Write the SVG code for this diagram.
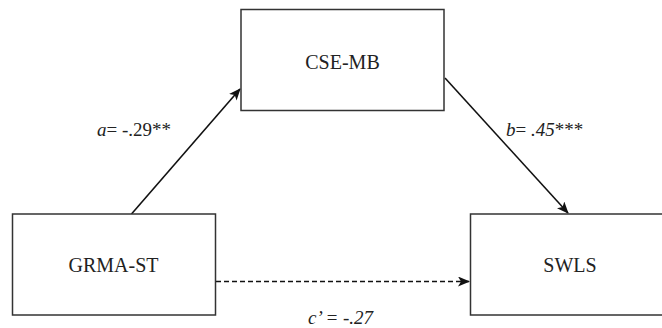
<svg xmlns="http://www.w3.org/2000/svg" width="662" height="328" viewBox="0 0 662 328">
<defs>
<style>
.box{fill:#fff;stroke:#333;stroke-width:1.5}
.lbl{font-family:"Liberation Serif","Times New Roman",serif;font-size:20px;fill:#222;text-anchor:middle}
.coef{font-family:"Liberation Serif","Times New Roman",serif;font-size:19px;font-style:italic;fill:#222}
.edge{stroke:#111;stroke-width:1.6;fill:none}
</style>
<marker id="ah" viewBox="0 0 12 10" refX="11" refY="5" markerWidth="12" markerHeight="10" markerUnits="userSpaceOnUse" orient="auto">
<path d="M0,0 L12,5 L0,10 L3,5 z" fill="#111"/>
</marker>
</defs>
<rect width="662" height="328" fill="#fff"/>
<g id="connectors">
<line class="edge" x1="131.5" y1="214" x2="240" y2="89" marker-end="url(#ah)"/>
<line class="edge" x1="445" y1="78" x2="568" y2="213" marker-end="url(#ah)"/>
<line class="edge" x1="216" y1="281.5" x2="469" y2="281.5" stroke-dasharray="5 3" marker-end="url(#ah)"/>
<text class="coef" x="97" y="136">a<tspan font-style="normal">= -.29**</tspan></text>
<text class="coef" x="506" y="136">b<tspan font-style="normal">= </tspan>.45<tspan font-style="normal">***</tspan></text>
<text class="coef" x="308" y="324">c’ = -.27</text>
</g>
<g id="cse-mb">
<rect class="box" x="241" y="9.5" width="203" height="101"/>
<text class="lbl" x="342.5" y="69">CSE-MB</text>
</g>
<g id="grma-st">
<rect class="box" x="12.5" y="214" width="203" height="101"/>
<text class="lbl" x="113.5" y="272">GRMA-ST</text>
</g>
<g id="swls">
<rect class="box" x="470.5" y="214" width="203" height="101"/>
<text class="lbl" x="570" y="272">SWLS</text>
</g>
</svg>
